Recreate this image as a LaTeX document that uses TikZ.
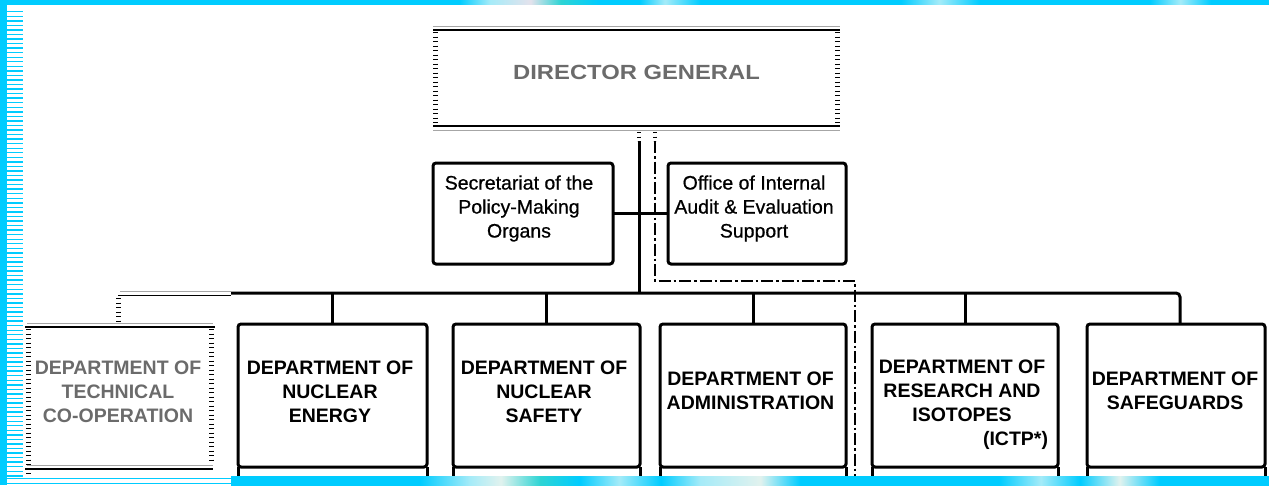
\documentclass[tikz,border=0pt]{standalone}
\usepackage{tikz}
\usepackage{fontspec}
\setmainfont{Liberation Sans}
\newfontfamily\medfont{Liberation Sans}[FakeBold=0.7]
\definecolor{cy}{RGB}{0,204,255}
\definecolor{cylight}{RGB}{165,235,248}
\definecolor{pale}{RGB}{225,242,238}
\definecolor{pinkish}{RGB}{228,226,236}
\definecolor{tealc}{RGB}{45,212,212}
\pgfdeclarehorizontalshading{topbar}{100bp}{color(0bp)=(cy); color(25bp)=(cy); color(43.1bp)=(cy); color(44.3bp)=(cylight); color(45.9bp)=(pinkish); color(47.1bp)=(tealc); color(48.6bp)=(cy); color(50.2bp)=(cy); color(51.2bp)=(cylight); color(52.6bp)=(cy); color(60.5bp)=(cy); color(62bp)=(cylight); color(63.6bp)=(cy); color(70.3bp)=(cy); color(71.5bp)=(cylight); color(72.7bp)=(cy); color(75bp)=(cy); color(100bp)=(cy)}
\pgfdeclarehorizontalshading{botbar}{100bp}{color(0bp)=(cy); color(25bp)=(cy); color(34.1bp)=(cy); color(36.5bp)=(cylight); color(38bp)=(pale); color(39.9bp)=(tealc); color(41.8bp)=(cy); color(43.7bp)=(cylight); color(45.7bp)=(cy); color(47.6bp)=(cylight); color(50.5bp)=(pale); color(52.4bp)=(cy); color(62bp)=(cy); color(64bp)=(cylight); color(65.9bp)=(cy); color(67.8bp)=(pale); color(69.7bp)=(cy); color(75bp)=(cy); color(100bp)=(cy)}
\begin{document}
\begin{tikzpicture}[x=1pt,y=-1pt,
  every node/.style={inner sep=0pt, outer sep=0pt},
  frame/.style={draw=black, line width=3pt, rounded corners=3pt},
  conn/.style={draw=black, line width=3pt},
  dashdot/.style={draw=black, line width=2.4pt, dash pattern=on 12pt off 3pt on 2.5pt off 3pt},
  ticks/.style={draw=black, line width=5pt, dash pattern=on 1.3pt off 3.2pt},
  faint/.style={draw=black!35, line width=1pt},
  thinblk/.style={draw=black, line width=1.3pt},
  lbl/.style={font=\fontsize{19.5}{24}\selectfont\bfseries, align=center},
  lblr/.style={font=\fontsize{19.5}{24}\medfont, align=center},
  ghost/.style={font=\fontsize{19.5}{24}\selectfont\bfseries, align=center, text=black!58},
  stripe/.style={draw=cy, line width=1.4pt}
]
\useasboundingbox (0,0) rectangle (1269,485);
\fill[white] (0,0) rectangle (1269,485);

% ---- Director General (faded) ----
\node[minimum width=407pt, minimum height=100pt] (dg) at (636.5,78) {};
\draw[faint] (433,26) -- (840,26);
\draw[thinblk] (433,30) -- (840,30);
\draw[ticks] (435,32) -- (435,125);
\draw[ticks] (837,32) -- (837,125);
\draw[thinblk] (433,126) -- (840,126);
\draw[faint] (433,130) -- (840,130);
\node[ghost, font=\fontsize{20.5}{24}\selectfont\bfseries] (dgt) at (636.5,72) {\scalebox{1.16}[1]{DIRECTOR GENERAL}};

% ---- staff boxes ----
\node[frame, minimum width=180pt, minimum height=101pt] (sec) at (523,213.5) {};
\node[lblr] (sect) at (519,208.5) {Secretariat of the\\Policy-Making\\Organs};
\node[frame, minimum width=178pt, minimum height=101pt] (off) at (757,213.5) {};
\node[lblr] (offt) at (754,208.5) {Office of Internal\\Audit \& Evaluation\\Support};

% ---- departments ----
\node[frame, minimum width=189pt, minimum height=143pt] (ne) at (332.5,395.5) {};
\node[lbl] (net) at (330,392) {DEPARTMENT OF\\NUCLEAR\\ENERGY};
\node[frame, minimum width=187pt, minimum height=143pt] (ns) at (546.5,395.5) {};
\node[lbl] (nst) at (544,392) {DEPARTMENT OF\\NUCLEAR\\SAFETY};
\node[frame, minimum width=186pt, minimum height=143pt] (adm) at (753,395.5) {};
\node[lbl] (admt) at (750.5,391) {DEPARTMENT OF\\ADMINISTRATION};
\node[frame, minimum width=186pt, minimum height=143pt] (res) at (965,395.5) {};
\node[lbl] (rest) at (962,391) {DEPARTMENT OF\\RESEARCH AND\\ISOTOPES};
\node[lbl, anchor=east] (ictp) at (1048,440) {(ICTP*)};
\node[frame, minimum width=178pt, minimum height=143pt] (saf) at (1176,395.5) {};
\node[lbl] (saft) at (1175,391) {DEPARTMENT OF\\SAFEGUARDS};

\foreach \n in {ne,ns,adm,res,saf}{
  \draw[conn] (\n.south west) -- ++(0,18);
  \draw[conn] (\n.south east) -- ++(0,18);
}

% ---- Technical Co-operation (faded) ----
\node[minimum width=190pt, minimum height=146pt] (dtc) at (120,396) {};
\draw[faint] (27,323) -- (213,323);
\draw[thinblk] (25,327) -- (215,327);
\draw[ticks] (28.5,329) -- (28.5,476);
\draw[ticks] (211.5,329) -- (211.5,463);
\draw[faint] (27,465) -- (213,465);
\draw[thinblk] (25,469) -- (213,469);
\node[ghost] (dtct) at (118,392) {DEPARTMENT OF\\TECHNICAL\\CO-OPERATION};

% ---- connectors ----
\coordinate (busL) at (231,293);
\coordinate (busR) at (1180,293);
\coordinate (trunk) at (639,141);
\draw[ticks, line width=4pt] (639,132) -- (639,141);
\draw[ticks, line width=4pt] (655,132) -- (655,141);
\draw[conn] (trunk) -- (trunk |- busL);
\draw[conn] (sec.east) -- (off.west);
\draw[conn, rounded corners=4pt] (busL) -- (busR) -- (busR |- saf.north);
\foreach \n in {ne,ns,adm,res}{
  \draw[conn] (\n.north) -- (\n.north |- busL);
}
% faded left extension of the bus
\draw[faint] (120,291.5) -- (231,291.5);
\draw[thinblk] (118,295.5) -- (231,295.5);
\draw[ticks] (118.5,298) -- (118.5,322);

% dash-dot line
\coordinate (dd1) at (655,141);
\coordinate (dd2) at (655,281);
\coordinate (dd3) at (855,281);
\coordinate (dd4) at (855,485);
\draw[dashdot] (dd1) -- (dd2) -- (dd3) -- (dd4);

% ---- frame decoration ----
\shade[shading=topbar] (0,0) rectangle (1269,4.5);
\fill[cy] (0,0) rectangle (7,485);
\fill[cy] (0,0) rectangle (23,4.5);
\foreach \k in {0,...,102}{
  \draw[stripe] (7,{11.7+\k*4.55}) -- (23,{11.7+\k*4.55});
}
\draw[stripe] (7,478.5) -- (231,478.5);
\draw[stripe] (7,483.2) -- (231,483.2);
\shade[shading=botbar] (231,476) rectangle (1269,485);
\end{tikzpicture}
\end{document}
